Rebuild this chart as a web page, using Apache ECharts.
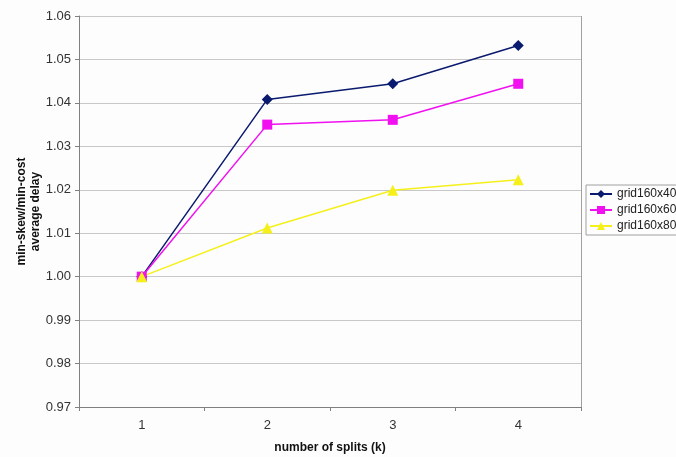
<!DOCTYPE html>
<html>
<head>
<meta charset="utf-8">
<script src="https://cdn.jsdelivr.net/npm/echarts@6/dist/echarts.min.js"></script>
<style>
html,body{margin:0;padding:0;background:#fdfdfd;}
#chart{width:676px;height:457px;}
</style>
</head>
<body>
<div id="chart"></div>
<script>
// Average delay ratio versus number of splits
const splits = ['1', '2', '3', '4'];
const grid160x40 = [1.000, 1.0408, 1.0444, 1.0532];
const grid160x60 = [1.000, 1.0350, 1.0361, 1.0444];
const grid160x80 = [1.000, 1.0112, 1.0199, 1.0223];
const yTicks = { min: 0.97, max: 1.06, step: 0.01 };

const font = '"Liberation Sans", Arial, sans-serif';
const chart = echarts.init(document.getElementById('chart'));

function lineSeries(name, data, color, symbol, size) {
  return {
    name: name,
    type: 'line',
    data: data,
    symbol: symbol,
    symbolSize: size,
    lineStyle: { color: color, width: 1.5 },
    itemStyle: { color: color },
    emphasis: { disabled: true },
    animation: false
  };
}

chart.setOption({
  backgroundColor: '#fdfdfd',
  textStyle: { fontFamily: font },
  grid: { left: 79, right: 95, top: 16, bottom: 50, containLabel: false, outerBoundsMode: 'none' },
  legend: {
    orient: 'vertical',
    left: 586,
    top: 185,
    itemGap: 4,
    itemWidth: 22,
    itemHeight: 10,
    padding: [3, 2, 3, 3],
    borderColor: '#a0a0a0',
    borderWidth: 1,
    textStyle: { fontSize: 12, color: '#222', fontFamily: font },
    data: ['grid160x40', 'grid160x60', 'grid160x80']
  },
  xAxis: {
    type: 'category',
    data: splits,
    boundaryGap: true,
    name: 'number of splits (k)',
    nameLocation: 'middle',
    nameGap: 35,
    nameTextStyle: { fontSize: 12, fontWeight: 'bold', color: '#111', fontFamily: font },
    axisLine: { lineStyle: { color: '#808080', width: 1 } },
    axisTick: { show: true, alignWithLabel: false, length: 4, lineStyle: { color: '#808080' } },
    axisLabel: { fontSize: 13, color: '#333', margin: 12, fontFamily: font },
    splitLine: { show: false }
  },
  yAxis: {
    type: 'value',
    min: yTicks.min,
    max: yTicks.max,
    interval: yTicks.step,
    name: 'min-skew/min-cost\naverage delay',
    nameLocation: 'middle',
    nameGap: 36,
    nameMoveOverlap: false,
    nameRotate: 90,
    nameTextStyle: { fontSize: 12, fontWeight: 'bold', color: '#111', lineHeight: 14, fontFamily: font },
    axisLine: { show: true, lineStyle: { color: '#808080', width: 1 } },
    axisTick: { show: true, length: 4, lineStyle: { color: '#808080' } },
    axisLabel: { fontSize: 13, color: '#333', margin: 8, fontFamily: font,
      formatter: v => v.toFixed(2) },
    splitLine: { show: true, lineStyle: { color: '#c8c8c8', width: 1 } }
  },
  series: [
    lineSeries('grid160x40', grid160x40, '#0a1a6e', 'diamond', 11),
    lineSeries('grid160x60', grid160x60, '#f010f0', 'rect', 10),
    lineSeries('grid160x80', grid160x80, '#f5f01a', 'triangle', 11),
    {
      // right-hand frame of the plot area
      type: 'line',
      data: [],
      markLine: {
        silent: true,
        symbol: 'none',
        animation: false,
        label: { show: false },
        lineStyle: { color: '#a0a0a0', width: 1, type: 'solid' },
        data: [[{ x: 581, y: 16 }, { x: 581, y: 407 }]]
      }
    }
  ]
});
</script>
</body>
</html>
